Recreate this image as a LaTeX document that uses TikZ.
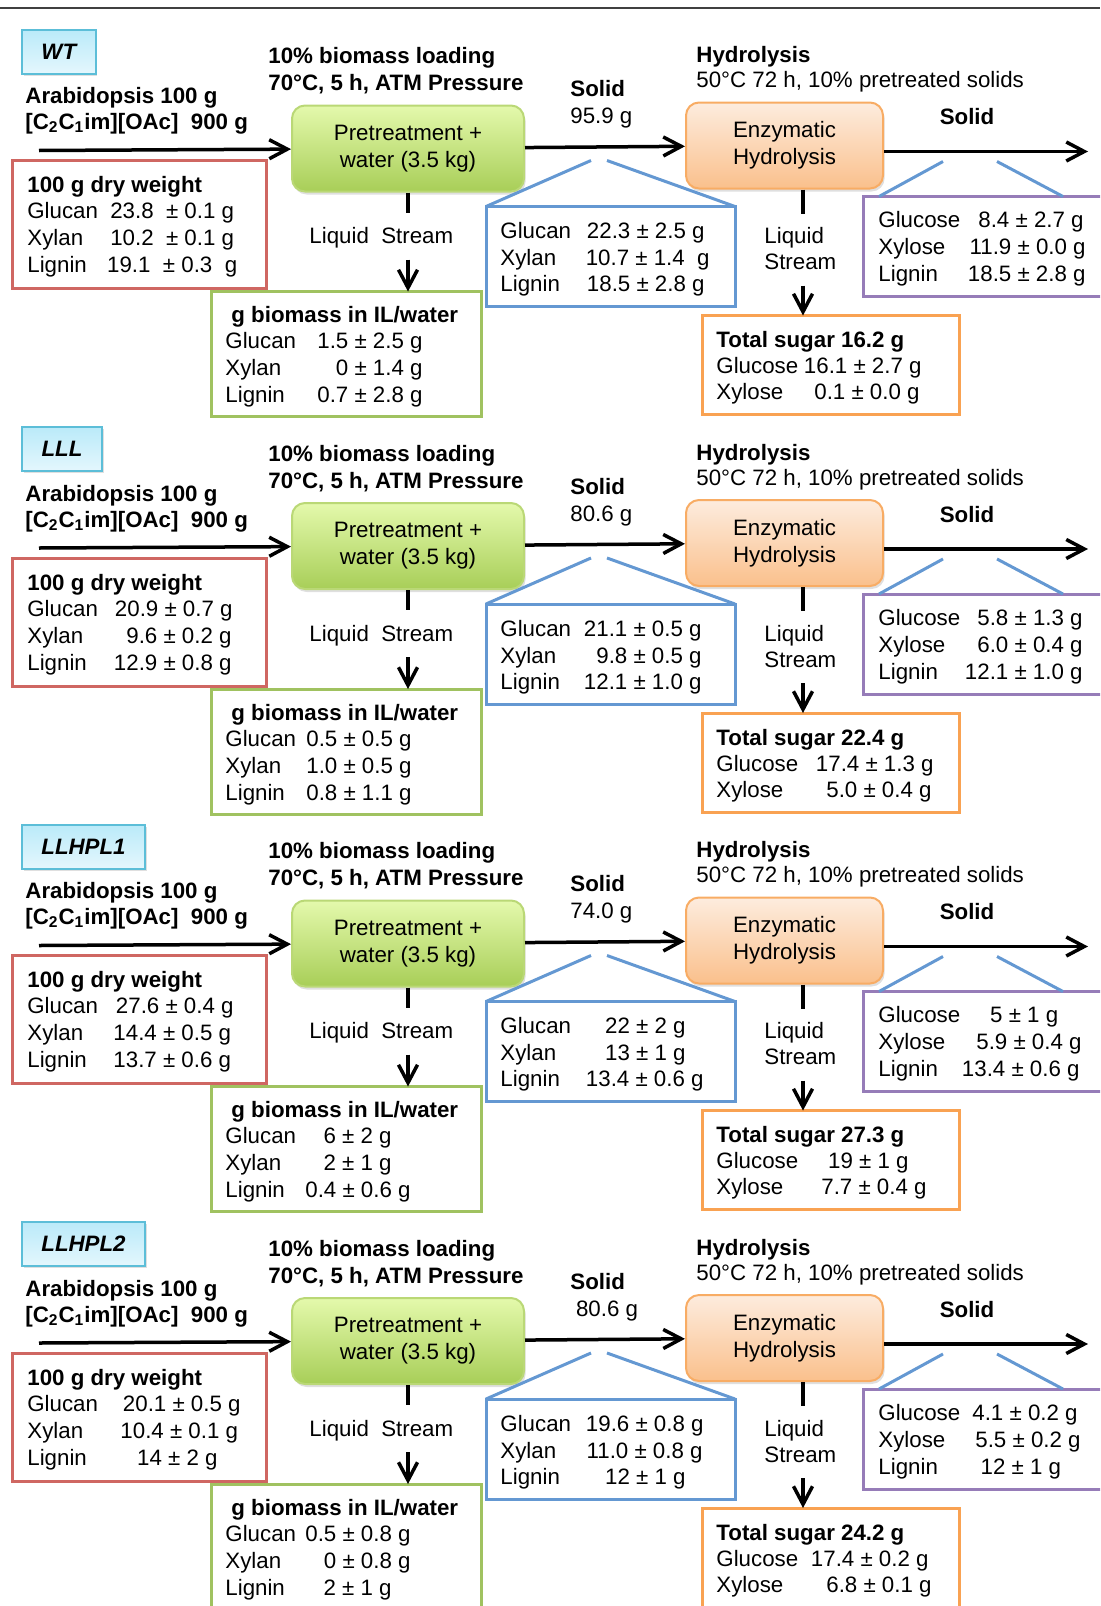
\documentclass[tikz,border=0pt]{standalone}
\usepackage{fontspec}
\setmainfont{Liberation Sans}
\usepackage{tikz}
\usetikzlibrary{positioning,arrows.meta,shadows}
\definecolor{redline}{RGB}{207,103,98}
\definecolor{greenline}{RGB}{160,194,96}
\definecolor{blueline}{RGB}{100,152,210}
\definecolor{purpleline}{RGB}{150,124,184}
\definecolor{orangeline}{RGB}{249,162,82}
\definecolor{cyanline}{RGB}{92,190,216}
\definecolor{cyantop}{RGB}{186,234,249}
\definecolor{cyanbot}{RGB}{228,247,253}
\definecolor{pretop}{RGB}{228,249,172}
\definecolor{prebot}{RGB}{168,206,88}
\definecolor{preline}{RGB}{186,216,118}
\definecolor{enztop}{RGB}{253,236,222}
\definecolor{enzbot}{RGB}{250,192,140}
\definecolor{enzline}{RGB}{248,172,100}

\newcommand{\txtsize}{\fontsize{11.15}{13.5}\selectfont}

\tikzset{
  strain/.style={draw=cyanline,line width=1pt,top color=cyantop,bottom color=cyanbot,
    anchor=north west,minimum height=22pt,inner sep=0pt,font=\txtsize\bfseries\itshape,
    drop shadow={shadow xshift=0.8pt,shadow yshift=-1.2pt,opacity=0.25}},
  proc/.style={rounded corners=6.5pt,line width=1pt,minimum height=43pt,align=center,
    drop shadow={shadow xshift=0.8pt,shadow yshift=-1.5pt,opacity=0.25}},
  box/.style={draw,line width=1.5pt,anchor=north west,inner sep=0pt,outer sep=0pt},
  txt/.style={anchor=base west,inner sep=0pt},
  num/.style={anchor=base east,inner sep=0pt},
  bf/.style={font=\txtsize\bfseries},
  flow/.style={->,line width=1.75pt},
  stub/.style={line width=2pt},
  fan/.style={draw=blueline,line width=1.5pt}
}

% #1 id, #2 strain, #3 width of the strain box, #4 total sugar
\newcommand{\flowpanel}[4]{%
  \node[strain,minimum width=#3] (lab#1) at (21,26) {#2};
  \node[txt,bf] (feed#1) at (25,101) {Arabidopsis 100 g};
  \node[txt,bf] (salt#1) at (25,127) {[C\textsubscript{2}C\textsubscript{1}im][OAc]\ \ 900 g};
  \node[txt,bf] (load#1) at (268,61) {10\% biomass loading};
  \node[txt,bf] (temp#1) at (268,88) {70°C, 5 h, ATM Pressure};
  \node[proc,draw=preline,top color=pretop,bottom color=prebot,minimum width=116pt] (pre#1) at (408,146) {Pretreatment +\\water (3.5 kg)};
  \coordinate (in#1) at (39,148);
  \draw[flow] (in#1) -- (pre#1);
  \node[box,draw=redline,minimum width=127pt,minimum height=64pt] (dry#1) at (12,158) {};
  \node[txt,bf] (dryh#1) at (27,190) {100 g dry weight};
  \node[txt] (dryg#1) at (27,216) {Glucan};
  \node[txt] (dryx#1) at (27,243) {Xylan};
  \node[txt] (dryl#1) at (27,270) {Lignin};
  \coordinate (pres#1) at (408,210);
  \draw[stub] (pre#1.south) -- (pres#1);
  \node[txt] (liq#1) at (309,241) {Liquid\ \ Stream};
  \node[box,draw=greenline,minimum width=135pt,minimum height=62.5pt] (bio#1) at (211,289) {};
  \coordinate (liqa#1) at (408,257);
  \draw[flow] (liqa#1) -- (liqa#1 |- bio#1.north);
  \node[txt,bf] (bioh#1) at (231,320) {g biomass in IL/water};
  \node[txt] (biog#1) at (225,346) {Glucan};
  \node[txt] (biox#1) at (225,373) {Xylan};
  \node[txt] (biol#1) at (225,400) {Lignin};
  \node[txt,bf] (sol#1) at (570,94) {Solid};
  \node[proc,draw=enzline,top color=enztop,bottom color=enzbot,minimum width=98.5pt] (enz#1) at (784.5,143) {Enzymatic\\Hydrolysis};
  \draw[flow] (pre#1) -- (enz#1);
  \node[txt,bf] (hyd#1) at (696,60) {Hydrolysis};
  \node[txt] (hydc#1) at (696,85) {50°C 72 h, 10\% pretreated solids};
  \node[box,draw=blueline,minimum width=124.5pt,minimum height=50pt] (wash#1) at (486,204) {};
  \coordinate (fa#1) at (591,158);
  \coordinate (fb#1) at (607,158);
  \draw[fan] (fa#1) -- (wash#1.north west) (fb#1) -- (wash#1.north east);
  \node[txt] (washg#1) at (500,236) {Glucan};
  \node[txt] (washx#1) at (500,263) {Xylan};
  \node[txt] (washl#1) at (500,289) {Lignin};
  \coordinate (enzs#1) at (803,211);
  \draw[stub] (enz#1.south -| enzs#1) -- (enzs#1);
  \node[txt] (liqb#1) at (764,241) {Liquid};
  \node[txt] (strb#1) at (764,267) {Stream};
  \node[box,draw=orangeline,minimum width=128.5pt,minimum height=49.5pt] (sug#1) at (702,313) {};
  \coordinate (liqc#1) at (803,283);
  \draw[flow] (liqc#1) -- (liqc#1 |- sug#1.north);
  \node[txt,bf] (sugh#1) at (716,345) {Total sugar #4 g};
  \node[txt] (sugg#1) at (716,371) {Glucose};
  \node[txt] (sugx#1) at (716,397) {Xylose};
  \coordinate (out#1) at (1088,149);
  \draw[flow] (enz#1.east |- out#1) -- (out#1);
  \node[bf,anchor=base,inner sep=0pt] (solb#1) at (967,122) {Solid};
  \node[box,draw=purpleline,minimum width=123.5pt,minimum height=50pt] (res#1) at (863,194) {};
  \coordinate (fc#1) at (943,159);
  \coordinate (fd#1) at (997,159);
  \draw[fan] (fc#1) -- ([xshift=8pt]res#1.north west) (fd#1) -- ([xshift=100pt]res#1.north west);
  \node[txt] (resg#1) at (878,225) {Glucose};
  \node[txt] (resx#1) at (878,252) {Xylose};
  \node[txt] (resl#1) at (878,279) {Lignin};
}

\begin{document}
\begin{tikzpicture}[x=0.5pt,y=-0.5pt,every node/.style={font=\txtsize},>={Straight Barb[length=9pt,width=9.5pt]}]
  \useasboundingbox (0,0) rectangle (1100,1606);
  \clip (0,0) rectangle (1100,1606);
  \draw[line width=0.7pt,black!75] (0,8) -- (1100,8);

  \begin{scope}[shift={(0,2.5)}]
    \flowpanel{wt}{WT}{36.8pt}{16.2}
    \node[txt] (solmwt) at (570,121) {95.9 g};
    \node[num] (dryvgwt) at (234.5,216) {23.8~~± 0.1 g};
    \node[num] (dryvxwt) at (234.5,243) {10.2~~± 0.1 g};
    \node[num] (dryvlwt) at (237.6,270) {19.1~~± 0.3~~g};
    \node[num] (biovgwt) at (423,346) {1.5 ± 2.5 g};
    \node[num] (biovxwt) at (423,373) {0 ± 1.4 g};
    \node[num] (biovlwt) at (423,400) {0.7 ± 2.8 g};
    \node[num] (washvgwt) at (705,236) {22.3 ± 2.5 g};
    \node[num] (washvxwt) at (710,263) {10.7 ± 1.4~~g};
    \node[num] (washvlwt) at (705,289) {18.5 ± 2.8 g};
    \node[num] (resvgwt) at (1084,225) {8.4 ± 2.7 g};
    \node[num] (resvxwt) at (1086,252) {11.9 ± 0.0 g};
    \node[num] (resvlwt) at (1086,279) {18.5 ± 2.8 g};
    \node[num] (sugvgwt) at (922,371) {16.1 ± 2.7 g};
    \node[num] (sugvxwt) at (920,397) {0.1 ± 0.0 g};
  \end{scope}

  \begin{scope}[shift={(0,400)}]
    \flowpanel{lll}{LLL}{40pt}{22.4}
    \node[txt] (solmlll) at (570,121) {80.6 g};
    \node[num] (dryvglll) at (233,216) {20.9 ± 0.7 g};
    \node[num] (dryvxlll) at (232,243) {9.6 ± 0.2 g};
    \node[num] (dryvllll) at (232,270) {12.9 ± 0.8 g};
    \node[num] (biovglll) at (412,346) {0.5 ± 0.5 g};
    \node[num] (biovxlll) at (412,373) {1.0 ± 0.5 g};
    \node[num] (biovllll) at (412,400) {0.8 ± 1.1 g};
    \node[num] (washvglll) at (702,236) {21.1 ± 0.5 g};
    \node[num] (washvxlll) at (702,263) {9.8 ± 0.5 g};
    \node[num] (washvllll) at (702,289) {12.1 ± 1.0 g};
    \node[num] (resvglll) at (1083,225) {5.8 ± 1.3 g};
    \node[num] (resvxlll) at (1083,252) {6.0 ± 0.4 g};
    \node[num] (resvllll) at (1083,279) {12.1 ± 1.0 g};
    \node[num] (sugvglll) at (934,371) {17.4 ± 1.3 g};
    \node[num] (sugvxlll) at (932,397) {5.0 ± 0.4 g};
  \end{scope}

  \begin{scope}[shift={(0,797.5)}]
    \flowpanel{hpa}{LLHPL1}{61.5pt}{27.3}
    \node[txt] (solmhpa) at (570,121) {74.0 g};
    \node[num] (dryvghpa) at (234,216) {27.6 ± 0.4 g};
    \node[num] (dryvxhpa) at (231.5,243) {14.4 ± 0.5 g};
    \node[num] (dryvlhpa) at (231.5,270) {13.7 ± 0.6 g};
    \node[num] (biovghpa) at (392,346) {6 ± 2 g};
    \node[num] (biovxhpa) at (392,373) {2 ± 1 g};
    \node[num] (biovlhpa) at (411,400) {0.4 ± 0.6 g};
    \node[num] (washvghpa) at (686,236) {22 ± 2 g};
    \node[num] (washvxhpa) at (686,263) {13 ± 1 g};
    \node[num] (washvlhpa) at (704,289) {13.4 ± 0.6 g};
    \node[num] (resvghpa) at (1058.6,225) {5 ± 1 g};
    \node[num] (resvxhpa) at (1082,252) {5.9 ± 0.4 g};
    \node[num] (resvlhpa) at (1080,279) {13.4 ± 0.6 g};
    \node[num] (sugvghpa) at (909,371) {19 ± 1 g};
    \node[num] (sugvxhpa) at (927,397) {7.7 ± 0.4 g};
  \end{scope}

  \begin{scope}[shift={(0,1195)}]
    \flowpanel{hpb}{LLHPL2}{61.5pt}{24.2}
    \node[txt] (solmhpb) at (575.6,121) {80.6 g};
    \node[num] (dryvghpb) at (241,216) {20.1 ± 0.5 g};
    \node[num] (dryvxhpb) at (238.5,243) {10.4 ± 0.1 g};
    \node[num] (dryvlhpb) at (218,270) {14 ± 2 g};
    \node[num] (biovghpb) at (411,346) {0.5 ± 0.8 g};
    \node[num] (biovxhpb) at (411,373) {0 ± 0.8 g};
    \node[num] (biovlhpb) at (392,400) {2 ± 1 g};
    \node[num] (washvghpb) at (704,236) {19.6 ± 0.8 g};
    \node[num] (washvxhpb) at (703,263) {11.0 ± 0.8 g};
    \node[num] (washvlhpb) at (686,289) {12 ± 1 g};
    \node[num] (resvghpb) at (1078,225) {4.1 ± 0.2 g};
    \node[num] (resvxhpb) at (1081,252) {5.5 ± 0.2 g};
    \node[num] (resvlhpb) at (1061.5,279) {12 ± 1 g};
    \node[num] (sugvghpb) at (929,371) {17.4 ± 0.2 g};
    \node[num] (sugvxhpb) at (932,397) {6.8 ± 0.1 g};
  \end{scope}
\end{tikzpicture}
\end{document}
